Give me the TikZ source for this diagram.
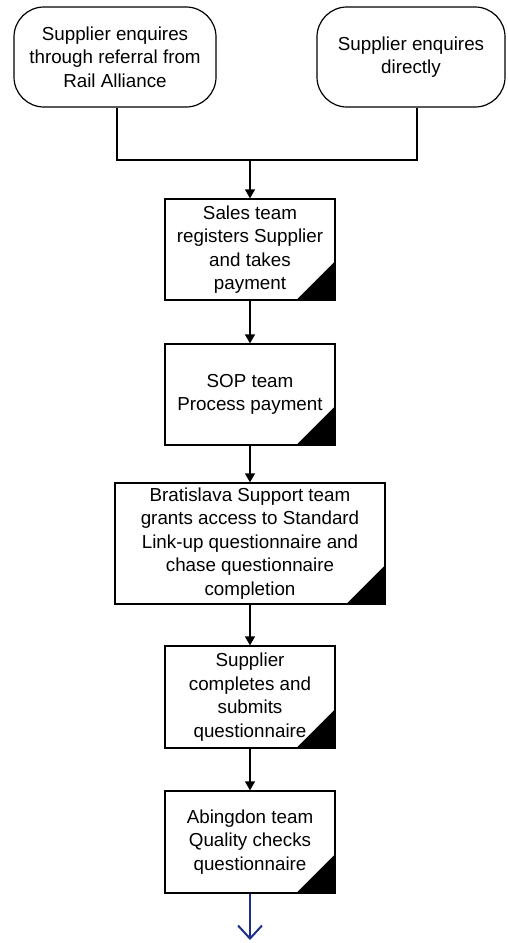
\documentclass[tikz,border=0pt]{standalone}
\usepackage{fontspec}
\setmainfont{Liberation Sans}
\usetikzlibrary{arrows.meta}
\definecolor{flownavy}{RGB}{28,48,135}
\tikzset{
  txt/.style={align=center, font=\fontsize{18.8}{23.5}\selectfont, inner sep=0pt},
  startbox/.style={txt, draw, line width=1.2pt, rounded corners=30pt,
    minimum width=#1, minimum height=100pt},
  taskbox/.style={txt, draw, line width=1.3pt, fill=white, minimum width=#1},
  corner/.style={fill=black},
  link/.style={line width=1.3pt},
  flowarrow/.style={link, -{Triangle[width=10pt,length=9pt]}},
  outarrow/.style={line width=2pt, draw=flownavy, -{Straight Barb[width=24pt,length=13pt,line width=2pt]}}
}
\begin{document}
\begin{tikzpicture}[x=1pt,y=-1pt]
  \useasboundingbox (0,0) rectangle (508,943);

  % entry points
  \node[startbox=202pt] (ref) at (115,57) {Supplier enquires\\through referral from\\Rail Alliance};
  \node[startbox=188pt] (dir) at (411,57) {Supplier enquires\\directly};

  % process steps
  \node[taskbox=170pt, minimum height=101pt] (sales) at (250,249.5)
    {Sales team\\registers Supplier\\and takes\\payment};
  \node[taskbox=170pt, minimum height=101pt] (sop) at (250,394.5)
    {SOP team\\Process payment};
  \node[taskbox=270pt, minimum height=121pt] (brat) at (250,543.5)
    {Bratislava Support team\\grants access to Standard\\Link-up questionnaire and\\chase questionnaire\\completion};
  \node[taskbox=170pt, minimum height=102pt] (supp) at (250,697)
    {Supplier\\completes and\\submits\\questionnaire};
  \node[taskbox=170pt, minimum height=102pt] (abing) at (250,842)
    {Abingdon team\\Quality checks\\questionnaire};

  % black corner marks of the process steps
  \foreach \n in {sales,sop,brat,supp,abing}
    \fill[corner] (\n.south east) -- ++(-40pt,0pt) -- ++(40pt,40pt) -- cycle;

  % merge of the two entry points
  \coordinate (merge) at (250,160);
  \coordinate (exit) at (250,940);
  \draw[link] ([xshift=2pt]ref.south) |- (merge);
  \draw[link] ([xshift=6pt]dir.south) |- (merge);
  \draw[flowarrow] (merge) -- (sales.north);

  % chain of steps
  \draw[flowarrow] (sales) -- (sop);
  \draw[flowarrow] (sop) -- (brat);
  \draw[flowarrow] (brat) -- (supp);
  \draw[flowarrow] (supp) -- (abing);

  % continuation
  \draw[outarrow] (abing.south) -- (exit);
\end{tikzpicture}
\end{document}
